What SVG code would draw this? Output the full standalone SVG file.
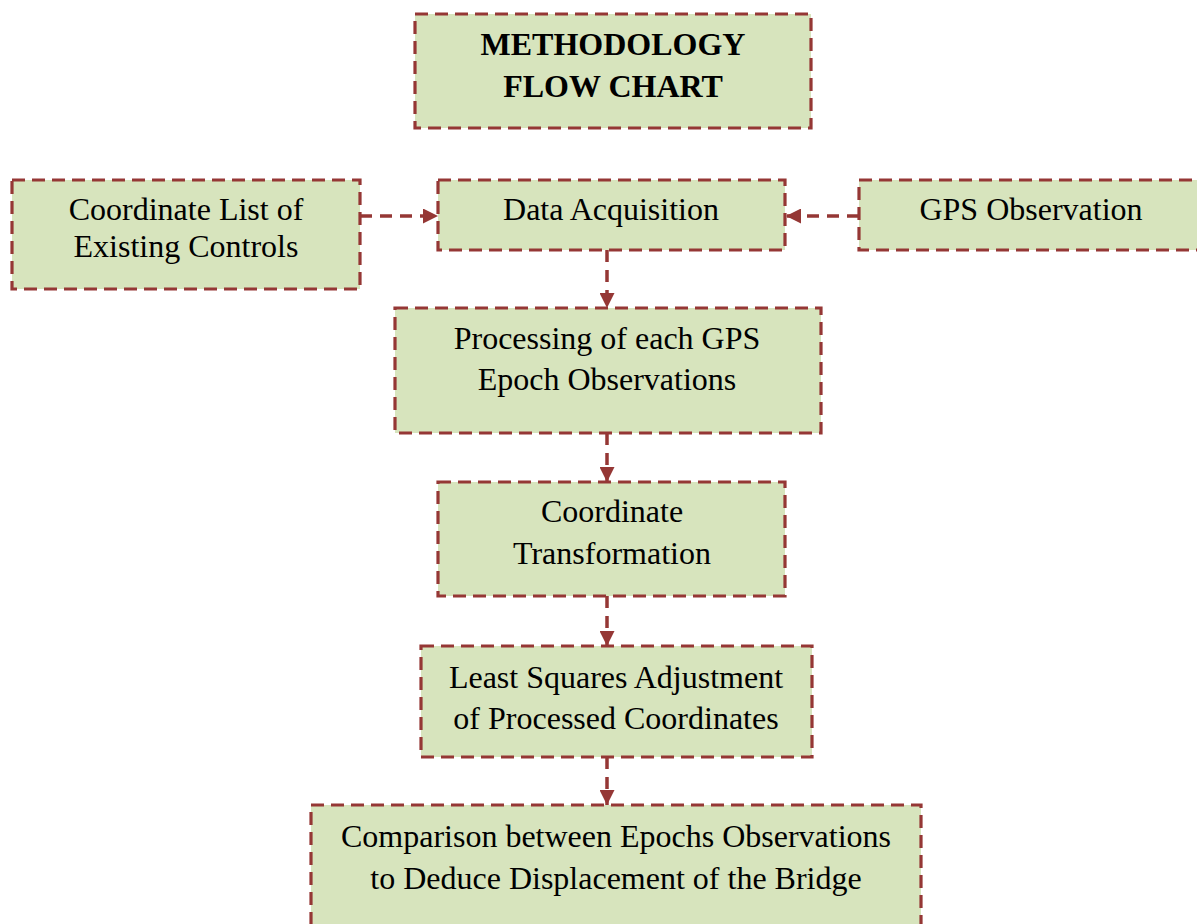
<svg xmlns="http://www.w3.org/2000/svg" width="1197" height="924" viewBox="0 0 1197 924">
<style>
.box{fill:#D7E4BD;stroke:#953735;stroke-width:3.2;stroke-dasharray:13 7}
.t{font-family:"Liberation Serif","Times New Roman",serif;font-size:32px;fill:#000;text-anchor:middle}
.b{font-weight:bold}
.c{fill:none;stroke:#953735;stroke-width:3.5;stroke-dasharray:12 8}
</style>
<defs>
<marker id="ah" viewBox="0 0 10 10" refX="10" refY="5" markerWidth="15" markerHeight="15" markerUnits="userSpaceOnUse" orient="auto">
<path d="M0,0 L10,5 L0,10 z" fill="#953735"/>
</marker>
</defs>
<rect width="1197" height="924" fill="#fff"/>
<g id="connectors">
<line class="c" x1="360" y1="216" x2="438" y2="216" marker-end="url(#ah)"/>
<line class="c" x1="859" y1="216" x2="786" y2="216" marker-end="url(#ah)"/>
<line class="c" x1="607" y1="250" x2="607" y2="308" marker-end="url(#ah)"/>
<line class="c" x1="607" y1="433" x2="607" y2="482" marker-end="url(#ah)"/>
<line class="c" x1="607" y1="596" x2="607" y2="646" marker-end="url(#ah)"/>
<line class="c" x1="607" y1="757" x2="607" y2="805" marker-end="url(#ah)"/>
</g>
<g id="title">
<rect class="box" x="415" y="14" width="396" height="114"/>
<text class="t b" x="613" y="55">METHODOLOGY</text>
<text class="t b" x="613" y="97">FLOW CHART</text>
</g>
<g id="coordlist">
<rect class="box" x="12" y="180" width="348" height="109"/>
<text class="t" x="186" y="220">Coordinate List of</text>
<text class="t" x="186" y="257">Existing Controls</text>
</g>
<g id="dataacq">
<rect class="box" x="438" y="180" width="347" height="70"/>
<text class="t" x="611" y="220">Data Acquisition</text>
</g>
<g id="gpsobs">
<rect class="box" x="859" y="180" width="350" height="70"/>
<text class="t" x="1031" y="220">GPS Observation</text>
</g>
<g id="processing">
<rect class="box" x="395" y="308" width="426" height="125"/>
<text class="t" x="607" y="349">Processing of each GPS</text>
<text class="t" x="607" y="390">Epoch Observations</text>
</g>
<g id="transform">
<rect class="box" x="438" y="482" width="347" height="114"/>
<text class="t" x="612" y="522">Coordinate</text>
<text class="t" x="612" y="564">Transformation</text>
</g>
<g id="lsa">
<rect class="box" x="421" y="646" width="391" height="111"/>
<text class="t" x="616" y="688">Least Squares Adjustment</text>
<text class="t" x="616" y="729">of Processed Coordinates</text>
</g>
<g id="compare">
<rect class="box" x="311" y="805" width="610" height="140"/>
<text class="t" x="616" y="847">Comparison between Epochs Observations</text>
<text class="t" x="616" y="889">to Deduce Displacement of the Bridge</text>
</g>
</svg>
